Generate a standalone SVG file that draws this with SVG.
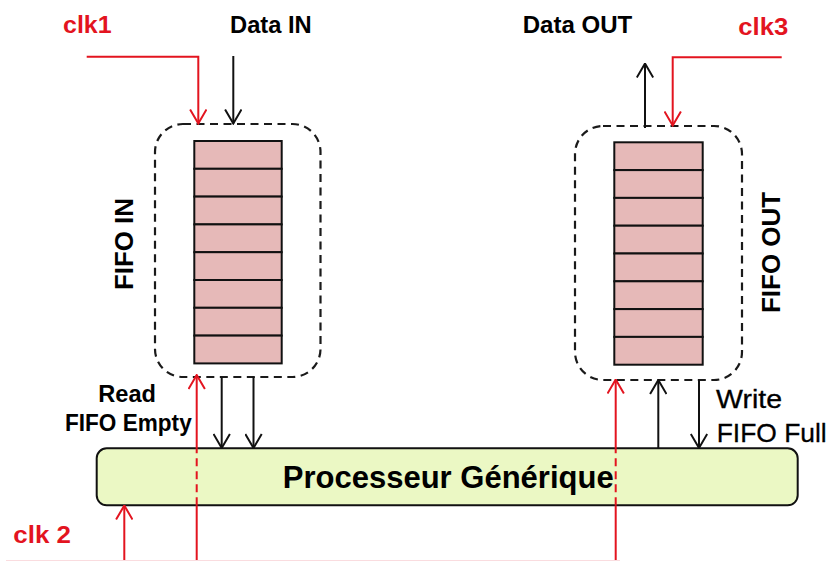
<svg xmlns="http://www.w3.org/2000/svg" width="831" height="561" viewBox="0 0 831 561">
<defs>
<style>
.lbl{font-family:"Liberation Sans",Arial,sans-serif;font-weight:bold;font-size:24px;fill:#000}
.lblr{font-family:"Liberation Sans",Arial,sans-serif;font-weight:normal;font-size:25.5px;fill:#000;stroke:#000;stroke-width:0.3}
.clk{font-family:"Liberation Sans",Arial,sans-serif;font-weight:bold;font-size:24px;fill:#E3141F}
.fifo{font-family:"Liberation Sans",Arial,sans-serif;font-weight:bold;font-size:26px;fill:#000}
.dash{fill:none;stroke:#1a1a1a;stroke-width:2.2;stroke-dasharray:8 5.5}
.cell{fill:#E6B9B8;stroke:#111;stroke-width:2}
.blk{fill:none;stroke:#111;stroke-width:2}
.red{fill:none;stroke:#E3141F;stroke-width:2}
.reddash{fill:none;stroke:#E3141F;stroke-width:2;stroke-dasharray:8 5}
</style>
<marker id="ab" viewBox="0 0 16 18" refX="15" refY="9" markerWidth="16" markerHeight="18" markerUnits="userSpaceOnUse" orient="auto">
<path d="M1,0.8 L15,9 L1,17.2" fill="none" stroke="#111" stroke-width="2"/>
</marker>
<marker id="ar" viewBox="0 0 16 18" refX="15" refY="9" markerWidth="16" markerHeight="18" markerUnits="userSpaceOnUse" orient="auto">
<path d="M1,0.8 L15,9 L1,17.2" fill="none" stroke="#E3141F" stroke-width="2"/>
</marker>
</defs>
<rect x="0" y="0" width="831" height="561" fill="#fff"/>

<g id="fifo-in">
<rect class="dash" x="155" y="124" width="165.5" height="253" rx="28" ry="28"/>
<rect class="cell" x="194.3" y="141" width="87.4" height="27.8"/>
<rect class="cell" x="194.3" y="168.8" width="87.4" height="27.8"/>
<rect class="cell" x="194.3" y="196.6" width="87.4" height="27.8"/>
<rect class="cell" x="194.3" y="224.4" width="87.4" height="27.8"/>
<rect class="cell" x="194.3" y="252.2" width="87.4" height="27.8"/>
<rect class="cell" x="194.3" y="280" width="87.4" height="27.8"/>
<rect class="cell" x="194.3" y="307.8" width="87.4" height="27.8"/>
<rect class="cell" x="194.3" y="335.6" width="87.4" height="27.8"/>
<text class="fifo" transform="translate(133.3,244) rotate(-90)" text-anchor="middle" textLength="92" lengthAdjust="spacingAndGlyphs">FIFO IN</text>
</g>

<g id="fifo-out">
<rect class="dash" x="575" y="126" width="167" height="254" rx="28" ry="28"/>
<rect class="cell" x="614.3" y="142.3" width="88.4" height="27.8"/>
<rect class="cell" x="614.3" y="170.1" width="88.4" height="27.8"/>
<rect class="cell" x="614.3" y="197.9" width="88.4" height="27.8"/>
<rect class="cell" x="614.3" y="225.7" width="88.4" height="27.8"/>
<rect class="cell" x="614.3" y="253.5" width="88.4" height="27.8"/>
<rect class="cell" x="614.3" y="281.3" width="88.4" height="27.8"/>
<rect class="cell" x="614.3" y="309.1" width="88.4" height="27.8"/>
<rect class="cell" x="614.3" y="336.9" width="88.4" height="27.8"/>
<text class="fifo" transform="translate(780,252.5) rotate(-90)" text-anchor="middle" textLength="121" lengthAdjust="spacingAndGlyphs">FIFO OUT</text>
</g>

<g id="processeur">
<rect x="96.7" y="448.3" width="701" height="57" rx="10" ry="10" fill="#EBF8C4" stroke="#111" stroke-width="2"/>
<text class="lbl" style="font-size:30.5px" x="282.7" y="488.3" textLength="331" lengthAdjust="spacingAndGlyphs">Processeur Générique</text>
</g>

<g id="labels">
<text class="clk" x="63" y="33.3" textLength="48.7" lengthAdjust="spacingAndGlyphs">clk1</text>
<text class="lbl" x="230" y="33.3" textLength="81.7" lengthAdjust="spacingAndGlyphs">Data IN</text>
<text class="lbl" x="522.7" y="33.3" textLength="109.6" lengthAdjust="spacingAndGlyphs">Data OUT</text>
<text class="clk" x="738.3" y="35" textLength="50" lengthAdjust="spacingAndGlyphs">clk3</text>
<text class="lbl" x="98.3" y="401.7" textLength="57.7" lengthAdjust="spacingAndGlyphs">Read</text>
<text class="lbl" x="65" y="430.5" textLength="126.7" lengthAdjust="spacingAndGlyphs">FIFO Empty</text>
<text class="lblr" x="716" y="408" textLength="66" lengthAdjust="spacingAndGlyphs">Write</text>
<text class="lblr" x="716.7" y="441.5" textLength="110" lengthAdjust="spacingAndGlyphs">FIFO Full</text>
<text class="clk" x="13.3" y="543.3" textLength="57.7" lengthAdjust="spacingAndGlyphs">clk 2</text>
</g>

<g id="connectors">
<path class="red" d="M86.7,56.7 H198.3 V123.5" marker-end="url(#ar)"/>
<path class="blk" d="M233.3,56 V123.5" marker-end="url(#ab)"/>
<path class="blk" d="M645,128 V63.5" marker-end="url(#ab)"/>
<path class="red" d="M781.7,57.3 H672.7 V125.5" marker-end="url(#ar)"/>
<path class="blk" d="M221.7,377 V448" marker-end="url(#ab)"/>
<path class="blk" d="M253.5,377 V448" marker-end="url(#ab)"/>
<path class="red" d="M196.7,561 V505.3"/>
<path class="reddash" d="M196.7,505.3 V448.3"/>
<path class="red" d="M196.7,448.3 V375" marker-end="url(#ar)"/>
<path class="red" d="M124.3,561 V505.5" marker-end="url(#ar)"/>
<path class="red" d="M615.7,561 V505.3"/>
<path class="reddash" d="M615.7,505.3 V448.3"/>
<path class="red" d="M615.7,448.3 V379.5" marker-end="url(#ar)"/>
<path class="blk" d="M658.3,448 V380" marker-end="url(#ab)"/>
<path class="blk" d="M699,380 V448" marker-end="url(#ab)"/>
<path d="M6,560.5 H620" stroke="#FADCDF" stroke-width="1" fill="none"/>
</g>
</svg>
